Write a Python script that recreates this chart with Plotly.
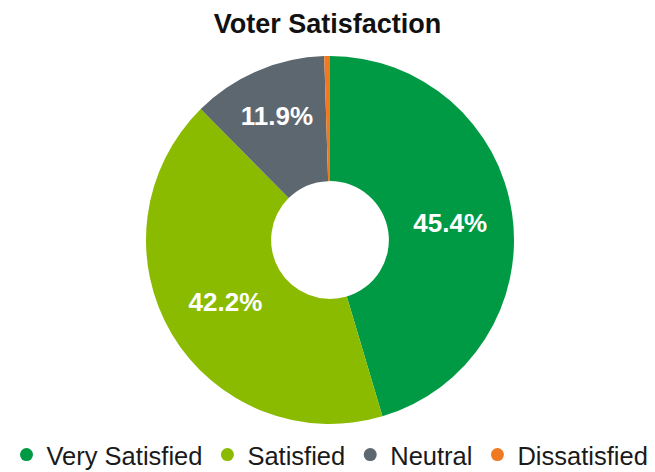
import plotly.graph_objects as go

categories = ["Very Satisfied", "Satisfied", "Neutral", "Dissatisfied"]
values = [45.4, 42.2, 11.9, 0.5]
colors = ["#009A44", "#8ABB00", "#5D6770", "#F07A22"]
text_positions = ["inside", "inside", "inside", "none"]

FONT = "Arial, Liberation Sans, sans-serif"

fig = go.Figure()
fig.add_trace(go.Pie(
    labels=categories, values=values,
    marker=dict(colors=colors, line=dict(width=0)),
    hole=0.32, sort=False, direction="clockwise", rotation=0,
    texttemplate="%{percent:.1%}", textposition=text_positions,
    insidetextorientation="horizontal",
    textfont=dict(family=FONT, size=26, color="white", weight="bold"),
    showlegend=False, hoverinfo="label+percent",
))

for name, col in zip(categories, colors):
    fig.add_trace(go.Scatter(
        x=[None], y=[None], mode="markers", name=name,
        marker=dict(symbol="circle", size=13, color=col),
        showlegend=True,
    ))

fig.update_layout(
    width=655, height=472,
    margin=dict(l=5, r=0, t=56, b=48),
    paper_bgcolor="white", plot_bgcolor="white",
    title=dict(text="<b>Voter Satisfaction</b>", x=0.5, xanchor="center",
               y=1 - 24 / 472, yanchor="middle", yref="container",
               font=dict(family=FONT, size=27, color="#111111")),
    legend=dict(orientation="h", x=0.5, xanchor="center",
                yref="container", y=(472 - 455) / 472, yanchor="middle",
                font=dict(family=FONT, size=25.5, color="#1a1a1a"),
                bgcolor="rgba(0,0,0,0)"),
    xaxis=dict(visible=False), yaxis=dict(visible=False),
)

fig.write_html("out.html")
